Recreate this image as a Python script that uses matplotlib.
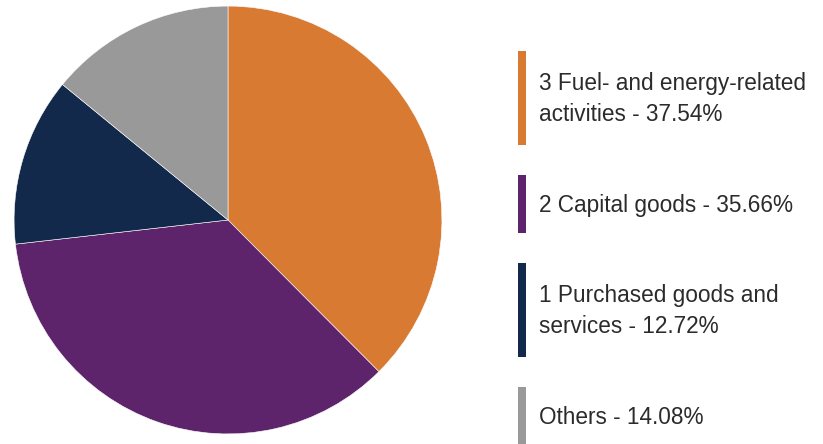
import matplotlib.pyplot as plt
from matplotlib.patches import Rectangle

labels = ["3 Fuel- and energy-related\nactivities - 37.54%",
          "2 Capital goods - 35.66%",
          "1 Purchased goods and\nservices - 12.72%",
          "Others - 14.08%"]
shares = [37.54, 35.66, 12.72, 14.08]
colors = ["#D87A31", "#5E246B", "#13294B", "#999999"]

W, H = 823, 444
fig = plt.figure(figsize=(W / 100, H / 100), dpi=100)

# pie, in pixel box
cx, cy, r = 228, 220, 215
ax = fig.add_axes([(cx - r) / W, (H - cy - r) / H, 2 * r / W, 2 * r / H])
ax.pie(shares, colors=colors, startangle=90, counterclock=False,
       wedgeprops=dict(edgecolor="white", linewidth=0.4))
ax.set_aspect("equal")
ax.set_xlim(-1.005, 1.005)
ax.set_ylim(-1.005, 1.005)

# custom legend: coloured bar + text, in pixel coords
lax = fig.add_axes([0, 0, 1, 1])
lax.set_xlim(0, W)
lax.set_ylim(H, 0)
lax.axis("off")

top = 51
for lab, col in zip(labels, colors):
    nlines = lab.count("\n") + 1
    h = 94 if nlines == 2 else 58
    lax.add_patch(Rectangle((518, top), 8, h, color=col, lw=0))
    lax.text(539, top + h / 2 + 1, lab, va="center", ha="left",
             fontsize=16.3, family="Liberation Sans", color="#2b2b2b",
             linespacing=1.45)
    top += h + 30

fig.savefig("out.png", dpi=100)
